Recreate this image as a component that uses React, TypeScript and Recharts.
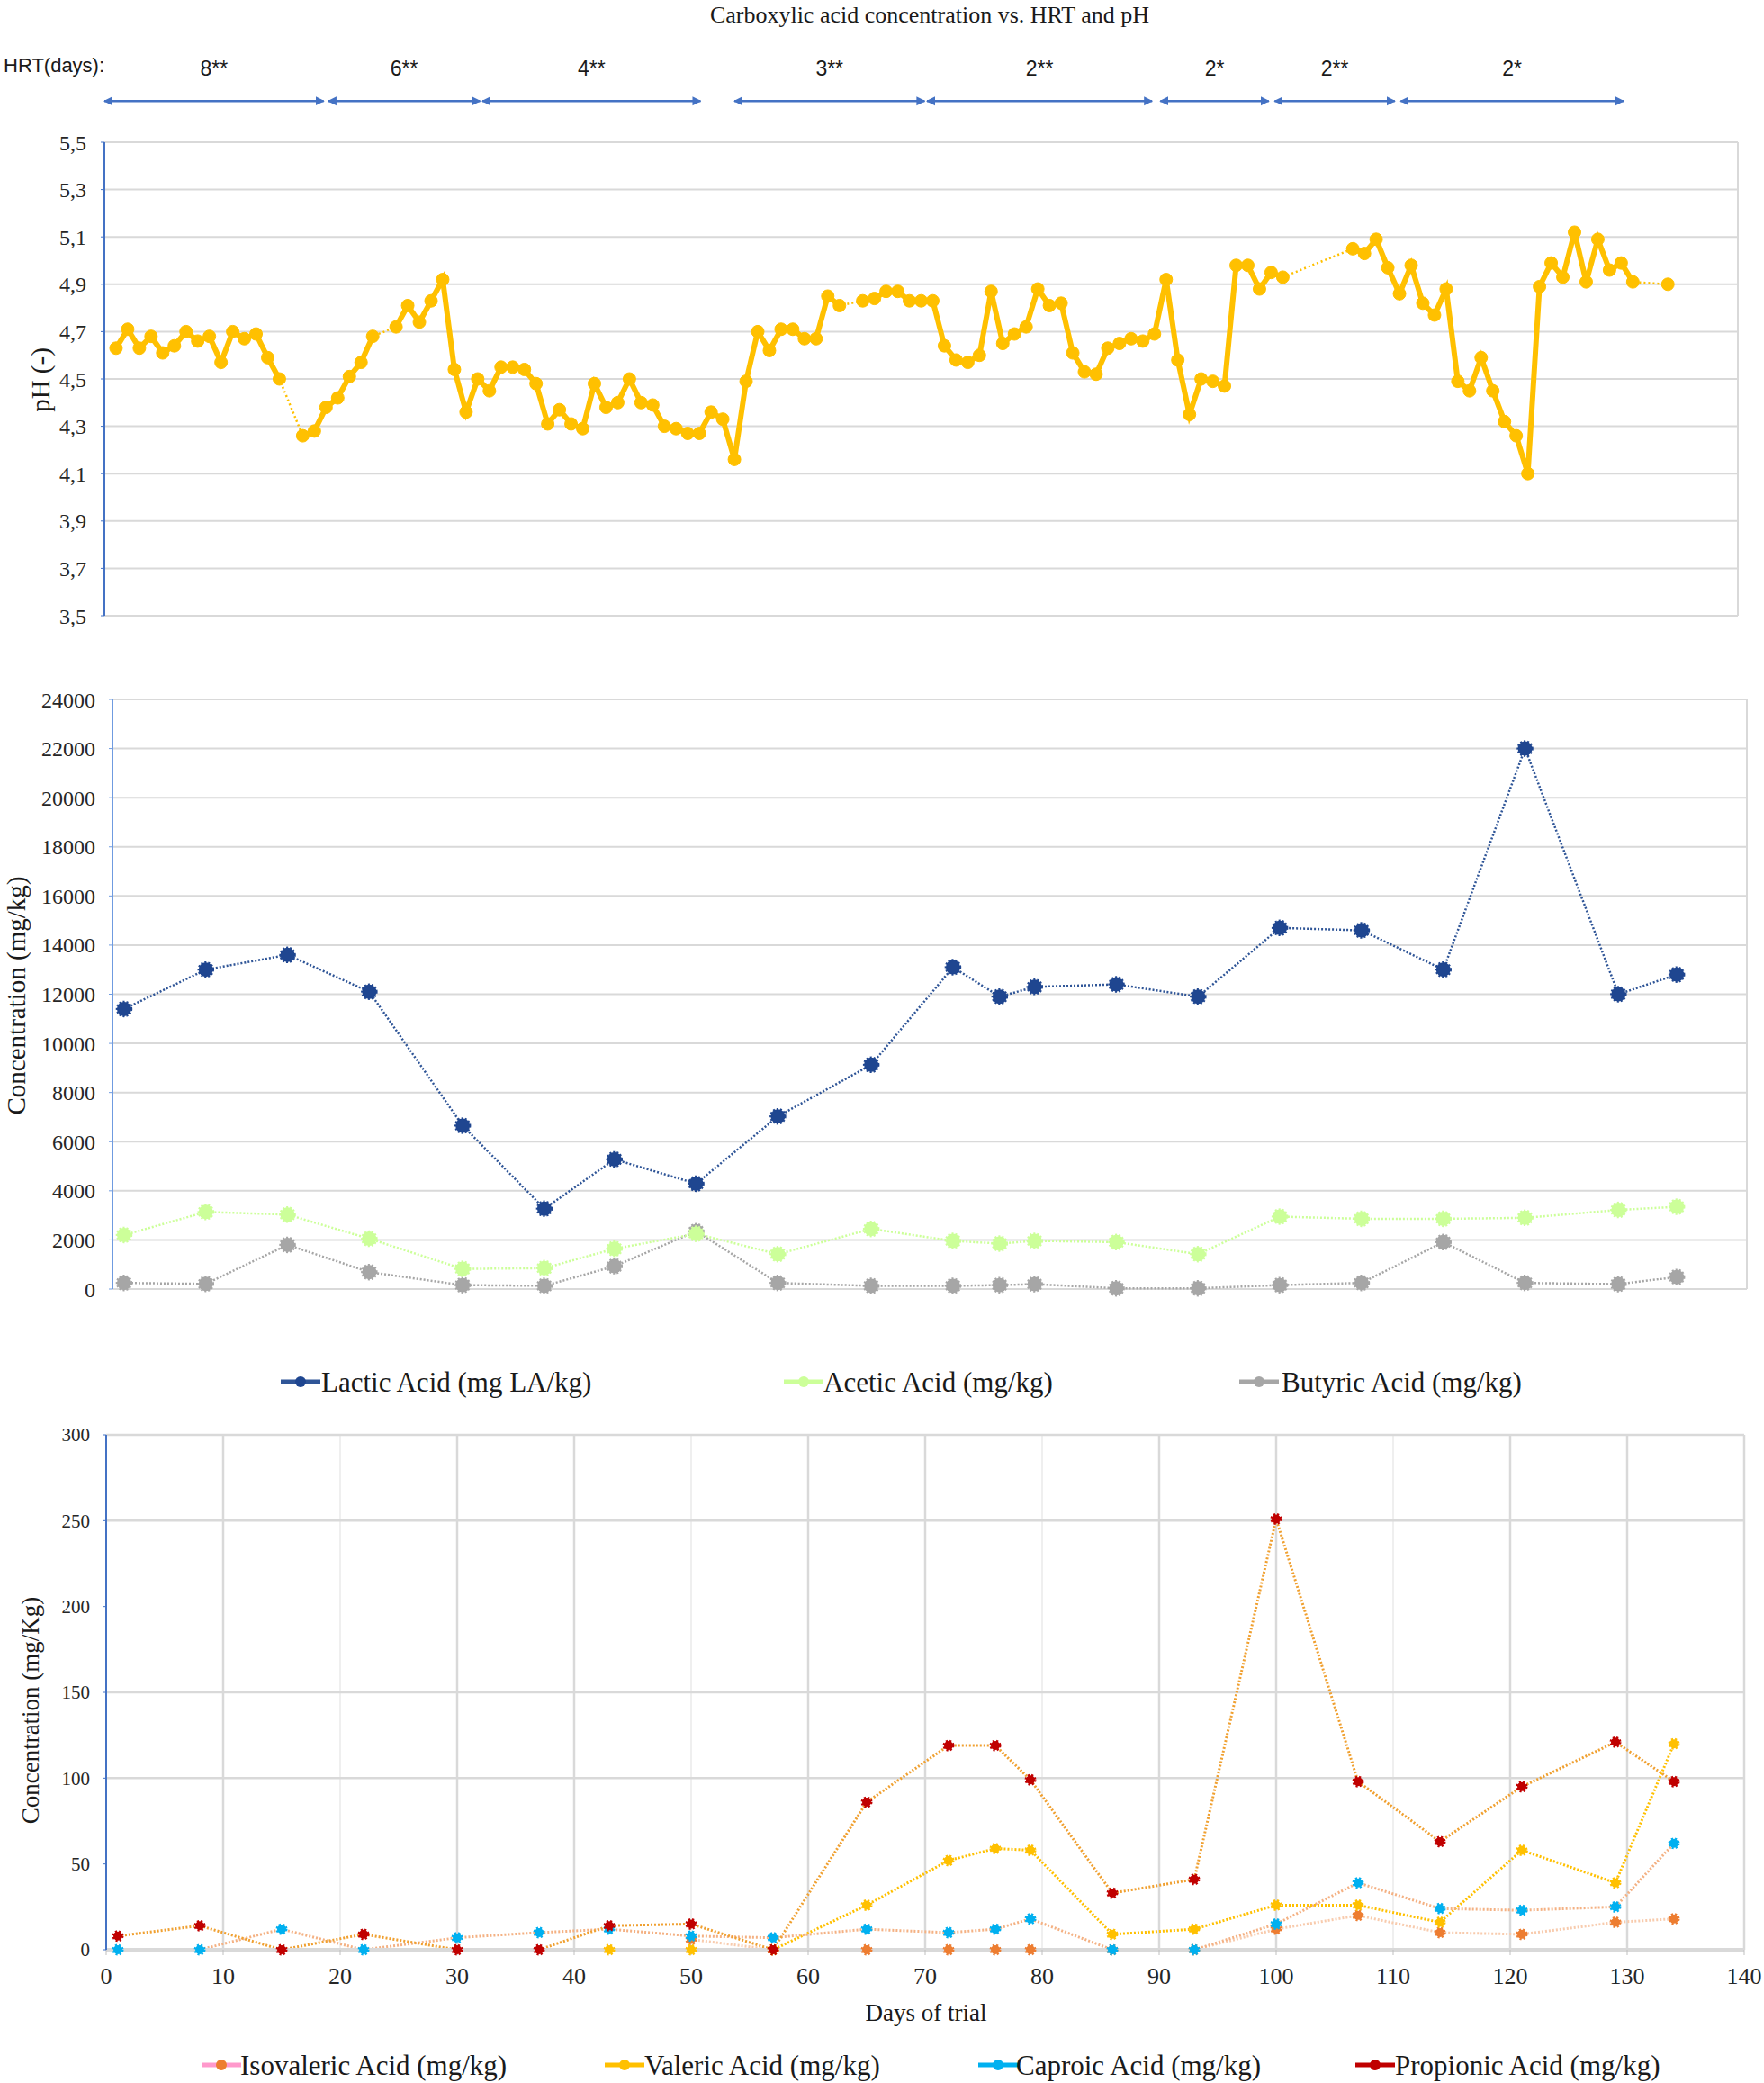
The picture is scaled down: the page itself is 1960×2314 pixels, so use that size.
import React from "react";
import { LineChart, Line, XAxis, YAxis, CartesianGrid, ReferenceLine } from "recharts";

// pH, measured (almost) daily
const phDays = [
  1, 2, 3, 4, 5, 6, 7, 8, 9, 10, 11, 12, 13, 14, 15, 17, 18, 19, 20, 21, 22, 23,
  25, 26, 27, 28, 29, 30, 31, 32, 33, 34, 35, 36, 37, 38, 39, 40, 41, 42, 43, 44,
  45, 46, 47, 48, 49, 50, 51, 52, 53, 54, 55, 56, 57, 58, 59, 60, 61, 62, 63,
  65, 66, 67, 68, 69, 70, 71, 72, 73, 74, 75, 76, 77, 78, 79, 80, 81, 82, 83, 84,
  85, 86, 87, 88, 89, 90, 91, 92, 93, 94, 95, 96, 97, 98, 99, 100, 101,
  107, 108, 109, 110, 111, 112, 113, 114, 115, 116, 117, 118, 119, 120, 121, 122,
  123, 124, 125, 126, 127, 128, 129, 130, 131, 134,
];
const phValues = [
  4.63, 4.71, 4.63, 4.68, 4.61, 4.64, 4.7, 4.66, 4.68, 4.57, 4.7, 4.67, 4.69, 4.59, 4.5, 4.26, 4.28, 4.38, 4.42, 4.51, 4.57, 4.68,
  4.72, 4.81, 4.74, 4.83, 4.92, 4.54, 4.36, 4.5, 4.45, 4.55, 4.55, 4.54, 4.48, 4.31, 4.37, 4.31, 4.29, 4.48, 4.38, 4.4,
  4.5, 4.4, 4.39, 4.3, 4.29, 4.27, 4.27, 4.36, 4.33, 4.16, 4.49, 4.7, 4.62, 4.71, 4.71, 4.67, 4.67, 4.85, 4.81,
  4.83, 4.84, 4.87, 4.87, 4.83, 4.83, 4.83, 4.64, 4.58, 4.57, 4.6, 4.87, 4.65, 4.69, 4.72, 4.88, 4.81, 4.82, 4.61, 4.53,
  4.52, 4.63, 4.65, 4.67, 4.66, 4.69, 4.92, 4.58, 4.35, 4.5, 4.49, 4.47, 4.98, 4.98, 4.88, 4.95, 4.93,
  5.05, 5.03, 5.09, 4.97, 4.86, 4.98, 4.82, 4.77, 4.88, 4.49, 4.45, 4.59, 4.45, 4.32, 4.26, 4.1,
  4.89, 4.99, 4.93, 5.12, 4.91, 5.09, 4.96, 4.99, 4.91, 4.9,
];

// acid sampling days
const sampleDays = [1, 8, 15, 22, 30, 37, 43, 50, 57, 65, 72, 76, 79, 86, 93, 100, 107, 114, 121, 129, 134];
const lactic = [11400, 13000, 13600, 12100, 6650, 3270, 5280, 4290, 7030, 9130, 13100, 11900, 12300, 12400, 11900, 14700, 14600, 13000, 22000, 12000, 12800];
const acetic = [2200, 3140, 3030, 2050, 820, 850, 1640, 2250, 1420, 2450, 1960, 1850, 1960, 1910, 1420, 2950, 2860, 2860, 2900, 3220, 3350];
const butyric = [250, 210, 1800, 690, 160, 130, 930, 2350, 250, 130, 130, 160, 200, 30, 30, 160, 250, 1910, 250, 200, 490];

const isovaleric = [null, null, null, null, null, null, null, 6, 0, 0, 0, 0, 0, 0, 0, 12, 20, 10, 9, 16, 18];
const valeric = [null, null, null, null, null, null, 0, 0, 0, 26, 52, 59, 58, 9, 12, 26, 26, 16, 58, 39, 120];
const caproic = [0, 0, 12, 0, 7, 10, 12, 8, 7, 12, 10, 12, 18, 0, 0, 15, 39, 24, 23, 25, 62];
const propionic = [8, 14, 0, 9, 0, 0, 14, 15, 0, 86, 119, 119, 99, 33, 41, 251, 98, 63, 95, 121, 98];

// HRT periods (days of trial)
const hrtLabels = ["8**", "6**", "4**", "3**", "2**", "2*", "2**", "2*"];
const hrtStart = [0, 19.2, 32.4, 54, 70.5, 90.5, 100.3, 111.1];
const hrtEnd = [18.8, 32.2, 51.1, 70.3, 89.8, 99.8, 110.6, 130.2];

const dayTicks = [0, 10, 20, 30, 40, 50, 60, 70, 80, 90, 100, 110, 120, 130, 140];
const phTicks = [3.5, 3.7, 3.9, 4.1, 4.3, 4.5, 4.7, 4.9, 5.1, 5.3, 5.5];
const mainTicks = [0, 2000, 4000, 6000, 8000, 10000, 12000, 14000, 16000, 18000, 20000, 22000, 24000];
const minorTicks = [0, 50, 100, 150, 200, 250, 300];

const SERIF = "'Liberation Serif', 'Times New Roman', serif";
const SANS = "'Liberation Sans', Arial, sans-serif";
const GRID = "#D9D9D9";
const AXIS_BLUE = "#4472C4";
const HRT_Y = 5.674;

const phData: any[] = [];
phDays.forEach((d, i) => {
  phData.push({ day: d, ph: phValues[i], solid: phValues[i] });
  const next = phDays[i + 1];
  // break the solid line where days are missing; the dotted one bridges the gap
  if (next !== undefined && next - d > 1.5) phData.push({ day: (d + next) / 2, ph: null, solid: null });
});

const acidData = sampleDays.map((d, i) => ({
  day: d,
  lactic: lactic[i],
  acetic: acetic[i],
  butyric: butyric[i],
  isovaleric: isovaleric[i],
  valeric: valeric[i],
  caproic: caproic[i],
  propionic: propionic[i],
}));

const phFmt = (v: number) => v.toFixed(1).replace(".", ",");

function LegendIcon({ x, y, line, dot }: { x: number; y: number; line: string; dot: string }) {
  return (
    <g>
      <line x1={x} y1={y} x2={x + 44} y2={y} stroke={line} strokeWidth={5} />
      <circle cx={x + 22} cy={y} r={6} fill={dot} />
    </g>
  );
}

function Overlay() {
  const t = (x: number, y: number, s: string, size: number, rot = false, anchor: any = "middle", font = SERIF) => (
    <text
      x={x}
      y={y}
      fontSize={size}
      fontFamily={font}
      fill="#1a1a1a"
      textAnchor={anchor}
      dominantBaseline="central"
      transform={rot ? `rotate(-90 ${x} ${y})` : undefined}
    >
      {s}
    </text>
  );
  return (
    <svg width={1960} height={2314} style={{ position: "absolute", left: 0, top: 0, pointerEvents: "none" }}>
      {t(1033, 16, "Carboxylic acid concentration vs. HRT and pH", 26)}
      {t(4, 72, "HRT(days):", 22, false, "start", SANS)}
      {t(45, 422, "pH (-)", 29, true)}
      {t(18, 1106, "Concentration  (mg/kg)", 29, true)}
      {t(34, 1900, "Concentration  (mg/Kg)", 27, true)}
      {t(1029, 2236, "Days of trial", 27)}

      <LegendIcon x={312} y={1535} line="#2F5597" dot="#1F4690" />
      {t(357, 1535, "Lactic Acid (mg LA/kg)", 31, false, "start")}
      <LegendIcon x={871} y={1535} line="#CCFF99" dot="#CCFF99" />
      {t(915, 1535, "Acetic Acid (mg/kg)", 31, false, "start")}
      <LegendIcon x={1377} y={1535} line="#A6A6A6" dot="#A6A6A6" />
      {t(1424, 1535, "Butyric Acid (mg/kg)", 31, false, "start")}

      <LegendIcon x={224} y={2294} line="#FF99CC" dot="#ED7D31" />
      {t(267, 2294, "Isovaleric Acid (mg/kg)", 31, false, "start")}
      <LegendIcon x={672} y={2294} line="#FFC000" dot="#FFC000" />
      {t(716, 2294, "Valeric Acid (mg/kg)", 31, false, "start")}
      <LegendIcon x={1087} y={2294} line="#00B0F0" dot="#00B0F0" />
      {t(1129, 2294, "Caproic Acid (mg/kg)", 31, false, "start")}
      <LegendIcon x={1506} y={2294} line="#C00000" dot="#C00000" />
      {t(1550, 2294, "Propionic Acid (mg/kg)", 31, false, "start")}
    </svg>
  );
}

const tickStyle = (size: number) => ({ fontSize: size, fill: "#262626", fontFamily: SERIF });

export default function App() {
  return (
    <div style={{ position: "absolute", left: 0, top: 0, width: 1960, height: 2314, background: "#fff", fontFamily: SERIF }}>
      <style>{`.recharts-cartesian-axis-tick-value { font-family: ${SERIF}; }`}</style>
      {/* pH panel with HRT arrows */}
      <div style={{ position: "absolute", left: 0, top: 0 }}>
        <LineChart width={1960} height={720} data={phData} margin={{ top: 158, right: 29, bottom: 36, left: 56 }}>
          <defs>
            <marker id="hrtArrow" viewBox="0 0 10 10" refX="9" refY="5" markerWidth="4" markerHeight="5" orient="auto-start-reverse">
              <path d="M0,0 L10,5 L0,10 z" fill={AXIS_BLUE} />
            </marker>
          </defs>
          <CartesianGrid stroke={GRID} strokeWidth={2} />
          <XAxis dataKey="day" type="number" domain={[0, 140]} ticks={dayTicks} height={0} tick={false} tickLine={false} axisLine={false} />
          <YAxis
            type="number"
            domain={[3.5, 5.5]}
            ticks={phTicks}
            interval={0}
            width={60}
            tickFormatter={phFmt}
            tick={tickStyle(24)}
            axisLine={{ stroke: AXIS_BLUE, strokeWidth: 2 }}
            tickLine={{ stroke: AXIS_BLUE }}
            tickSize={4}
            tickMargin={16}
          />
          <Line dataKey="ph" connectNulls stroke="#FFC000" strokeWidth={2.5} strokeDasharray="2 3" dot={false} isAnimationActive={false} />
          <Line dataKey="solid" stroke="#FFC000" strokeWidth={6} dot={{ r: 7, fill: "#FFC000", stroke: "#FFC000", strokeWidth: 1 }} isAnimationActive={false} />
          {hrtLabels.map((lab, i) => (
            <ReferenceLine
              key={i}
              segment={[{ x: hrtStart[i], y: HRT_Y }, { x: hrtEnd[i], y: HRT_Y }]}
              ifOverflow="visible"
              stroke={AXIS_BLUE}
              strokeWidth={2.5}
              markerStart="url(#hrtArrow)"
              markerEnd="url(#hrtArrow)"
              label={{ value: lab, position: "top", offset: 28, fill: "#1a1a1a", fontSize: 23, fontFamily: SANS }}
            />
          ))}
        </LineChart>
      </div>

      {/* lactic / acetic / butyric */}
      <div style={{ position: "absolute", left: 0, top: 740 }}>
        <LineChart width={1960} height={720} data={acidData} margin={{ top: 37, right: 19, bottom: 28, left: 55 }}>
          <CartesianGrid stroke={GRID} strokeWidth={2} />
          <XAxis dataKey="day" type="number" domain={[0, 140]} ticks={dayTicks} height={0} tick={false} tickLine={false} axisLine={{ stroke: GRID, strokeWidth: 2 }} />
          <YAxis
            type="number"
            domain={[0, 24000]}
            ticks={mainTicks}
            interval={0}
            width={70}
            tick={tickStyle(24)}
            axisLine={{ stroke: "#6F9BE0", strokeWidth: 2 }}
            tickLine={{ stroke: "#6F9BE0" }}
            tickSize={4}
            tickMargin={15}
          />
          <Line dataKey="butyric" stroke="#A6A6A6" strokeWidth={2.5} strokeDasharray="2 2" dot={{ r: 8, fill: "#A6A6A6", stroke: "#A6A6A6" }} isAnimationActive={false} />
          <Line dataKey="acetic" stroke="#CCFF99" strokeWidth={2.5} strokeDasharray="2 2" dot={{ r: 8, fill: "#CCFF99", stroke: "#CCFF99" }} isAnimationActive={false} />
          <Line dataKey="lactic" stroke="#2F5597" strokeWidth={2.5} strokeDasharray="2 2" dot={{ r: 8, fill: "#1F4690", stroke: "#1F4690" }} isAnimationActive={false} />
        </LineChart>
      </div>

      {/* minor acids */}
      <div style={{ position: "absolute", left: 0, top: 1560 }}>
        <LineChart width={1960} height={660} data={acidData} margin={{ top: 34, right: 22, bottom: 0, left: 58 }}>
          <CartesianGrid stroke="#EFEFEF" strokeWidth={2} horizontal={false} />
          <CartesianGrid stroke={GRID} strokeWidth={2.5} horizontalValues={[100, 150, 250, 300]} verticalValues={[10, 30, 40, 60, 70, 90, 100, 120, 130, 140]} />
          <XAxis
            dataKey="day"
            type="number"
            domain={[0, 140]}
            ticks={dayTicks}
            interval={0}
            height={54}
            tick={tickStyle(26)}
            axisLine={{ stroke: GRID, strokeWidth: 4 }}
            tickLine={{ stroke: "#BFBFBF" }}
            tickSize={6}
            tickMargin={14}
          />
          <YAxis
            type="number"
            domain={[0, 300]}
            ticks={minorTicks}
            interval={0}
            width={60}
            tick={tickStyle(21)}
            axisLine={{ stroke: AXIS_BLUE, strokeWidth: 2 }}
            tickLine={{ stroke: AXIS_BLUE }}
            tickSize={4}
            tickMargin={14}
          />
          <Line dataKey="isovaleric" stroke="#F8CBAD" strokeWidth={3} strokeDasharray="2 2" dot={{ r: 5, fill: "#ED7D31", stroke: "#ED7D31" }} isAnimationActive={false} />
          <Line dataKey="valeric" stroke="#FFC000" strokeWidth={3} strokeDasharray="2 2" dot={{ r: 5, fill: "#FFC000", stroke: "#FFC000" }} isAnimationActive={false} />
          <Line dataKey="caproic" stroke="#F4B183" strokeWidth={3} strokeDasharray="2 2" dot={{ r: 5, fill: "#00B0F0", stroke: "#00B0F0" }} isAnimationActive={false} />
          <Line dataKey="propionic" stroke="#F0A030" strokeWidth={3} strokeDasharray="2 2" dot={{ r: 5, fill: "#C00000", stroke: "#C00000" }} isAnimationActive={false} />
        </LineChart>
      </div>

      <Overlay />
    </div>
  );
}
